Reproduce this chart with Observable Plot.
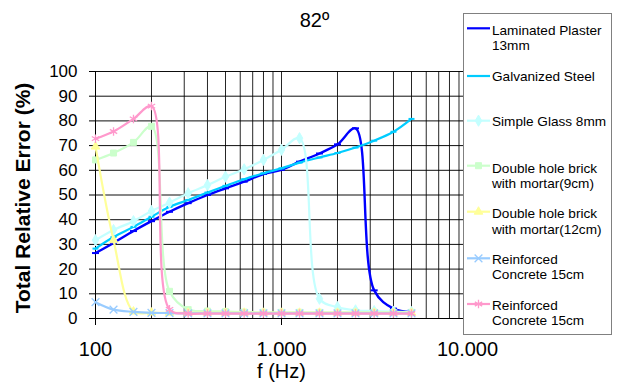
<!DOCTYPE html>
<html><head><meta charset="utf-8">
<script src="https://cdn.jsdelivr.net/npm/d3@7"></script>
<script src="https://cdn.jsdelivr.net/npm/@observablehq/plot@0.6"></script>
<style>
body{margin:0;background:#fff;font-family:Arial,"Liberation Sans",sans-serif}
#wrap{position:relative;width:617px;height:383px;overflow:hidden}
#legend{position:absolute;left:463px;top:13px}
</style>
</head><body><div id="wrap"></div>
<script>
const title = "82º";
const xTitle = "f (Hz)";
const yTitle = "Total Relative Error (%)";
const freqs = [100,125,160,200,250,315,400,500,630,800,1000,1250,1600,2000,2500,3150,4000,5000];
const xTicks = [100,1000,10000];
const xTickLabels = ["100","1.000","10.000"];
const xGrid = [100,200,300,400,500,600,700,800,900,1000,2000,3000,4000,5000,6000,7000,8000,9000];
const yTicks = [0,10,20,30,40,50,60,70,80,90,100];
const seriesNames = ["Laminated Plaster 13mm","Galvanized Steel","Simple Glass 8mm","Double hole brick with mortar(9cm)","Double hole brick with mortar(12cm)","Reinforced Concrete 15cm","Reinforced Concrete 15cm"];
const legendLines = [["Laminated Plaster","13mm"],["Galvanized Steel"],["Simple Glass 8mm"],["Double hole brick","with mortar(9cm)"],["Double hole brick","with mortar(12cm)"],["Reinforced","Concrete 15cm"],["Reinforced","Concrete 15cm"]];
const laminated = [26.5,30.6,35.4,39.4,43.2,46.7,50.0,52.7,55.4,58.5,60.2,63.5,66.8,70.5,77.0,11.4,4.0,2.6];
const galvanized = [28.3,33.0,37.1,41.2,45.2,48.0,51.0,53.7,56.4,58.8,60.8,63.1,65.2,67.0,69.2,72.0,75.6,80.8];
const glass = [31.7,35.8,39.4,43.5,46.9,50.7,54.0,57.4,60.4,64.2,68.3,73.0,8.0,4.6,3.3,3.0,2.8,2.6];
const brick9 = [64.2,67.0,71.3,77.8,11.0,3.6,3.0,2.8,2.6,2.5,2.5,2.5,2.5,2.5,2.5,2.5,2.5,2.5];
const brick12 = [69.6,31.7,2.8,2.4,2.3,2.3,2.3,2.3,2.3,2.3,2.3,2.3,2.3,2.3,2.3,2.3,2.3,2.3];
const concreteA = [6.6,3.6,2.7,2.3,2.2,2.1,2.1,2.1,2.1,2.1,2.1,2.1,2.1,2.1,2.1,2.1,2.1,2.1];
const concreteB = [72.8,75.7,80.8,86.0,3.7,2.0,2.0,2.0,2.0,2.0,2.0,2.0,2.0,2.0,2.0,2.0,2.0,2.0];
const seriesValues = [laminated,galvanized,glass,brick9,brick12,concreteA,concreteB];
const colors = ["#0000FF","#00CCFF","#C4FFFF","#CCFFCC","#FFFF99","#99CCFF","#FF99CC"];

const dash = {draw(ctx, size){const r = Math.sqrt(size/Math.PI); ctx.moveTo(-r,0); ctx.lineTo(r,0);}};
const markerStyles = [
  {symbol: dash, r: 3.5, fill: "none", stroke: colors[0], strokeWidth: 2},
  {symbol: dash, r: 3, fill: "none", stroke: colors[1], strokeWidth: 2},
  {symbol: "diamond", r: 3.4, fill: colors[2], stroke: colors[2], strokeWidth: 1},
  {symbol: "square", r: 3.4, fill: colors[3], stroke: colors[3], strokeWidth: 1},
  {symbol: "triangle", r: 3.2, fill: colors[4], stroke: colors[4], strokeWidth: 1},
  {symbol: "times", r: 3.6, fill: "none", stroke: colors[5], strokeWidth: 1.3},
  {symbol: "asterisk", r: 4, fill: "none", stroke: colors[6], strokeWidth: 1.3}
];

const seriesMarks = [];
seriesValues.forEach((vals, i) => {
  const rows = freqs.map((f, j) => ({f, v: vals[j], s: seriesNames[i]}));
  seriesMarks.push(Plot.line(rows, {x: "f", y: "v", stroke: colors[i], strokeWidth: i === 0 ? 2.4 : 2.2, curve: "catmull-rom"}));
  const m = markerStyles[i];
  seriesMarks.push(Plot.dot(rows, {x: "f", y: "v", symbol: m.symbol, r: m.r, fill: m.fill, stroke: m.stroke, strokeWidth: m.strokeWidth}));
});

const chart = Plot.plot({
  width: 617, height: 383,
  marginLeft: 95, marginRight: 150, marginTop: 71, marginBottom: 65,
  style: {fontFamily: "Arial, 'Liberation Sans', sans-serif", background: "#fff", color: "#000", overflow: "visible"},
  x: {type: "log", domain: [100, 10000]},
  y: {domain: [0, 100]},
  marks: [
    Plot.gridX(xGrid, {stroke: "#000", strokeOpacity: 0.85, strokeWidth: 1}),
    Plot.gridY(yTicks, {stroke: "#000", strokeOpacity: 0.95, strokeWidth: 1}),
    Plot.ruleY([0], {stroke: "#000", strokeWidth: 1}),
    Plot.ruleX([100], {stroke: "#000", strokeWidth: 1}),
    Plot.axisY({ticks: yTicks, tickSize: 6, tickPadding: 12, fontSize: 17, label: null}),
    Plot.axisX({ticks: xTicks, tickFormat: d => xTickLabels[xTicks.indexOf(d)], tickSize: 7, tickPadding: 16, fontSize: 20, label: null}),
    ...seriesMarks,
    Plot.text([title], {frameAnchor: "top", lineAnchor: "middle", dx: 33, dy: -51, fontSize: 20, fill: "#000"}),
    Plot.text([xTitle], {frameAnchor: "bottom", lineAnchor: "middle", dy: 53, fontSize: 20, fill: "#000"}),
    Plot.text([yTitle], {frameAnchor: "left", textAnchor: "middle", lineAnchor: "middle", rotate: -90, dx: -72, dy: 3, fontSize: 21, fontWeight: "bold", fill: "#000"})
  ]
});
const wrap = document.getElementById("wrap");
wrap.appendChild(chart);

// legend
const lw = 149, lh = 322;
const swatchY = [15.3, 63, 107.7, 152.7, 198.7, 245.3, 291];
const textY = [[17.7, 32.3], [63.5], [108], [155.3, 170.6], [200.3, 216.3], [246.3, 261.6], [292, 307.7]];
const svg = d3.create("svg").attr("id", "legend").attr("width", lw).attr("height", lh)
  .style("font-family", "Arial, 'Liberation Sans', sans-serif");
svg.append("rect").attr("x", 0.5).attr("y", 0.5).attr("width", lw - 1).attr("height", lh - 1)
  .attr("fill", "#fff").attr("stroke", "#808080");
seriesNames.forEach((name, i) => {
  const g = svg.append("g");
  g.append("line").attr("x1", 4).attr("x2", 27).attr("y1", swatchY[i]).attr("y2", swatchY[i])
    .attr("stroke", colors[i]).attr("stroke-width", 2.2);
  const m = markerStyles[i];
  if (typeof m.symbol === "string") {
    const map = {diamond: d3.symbolDiamond, square: d3.symbolSquare, triangle: d3.symbolTriangle, times: d3.symbolTimes, asterisk: d3.symbolAsterisk};
    g.append("path").attr("d", d3.symbol(map[m.symbol], Math.PI * m.r * m.r)())
      .attr("transform", `translate(15.5,${swatchY[i]})`)
      .attr("fill", m.fill).attr("stroke", m.stroke).attr("stroke-width", m.strokeWidth);
  }
  legendLines[i].forEach((t, k) => {
    g.append("text").attr("x", 29).attr("y", textY[i][k]).attr("dominant-baseline", "central")
      .attr("font-size", 13.6).attr("fill", "#000").text(t);
  });
});
wrap.appendChild(svg.node());
</script>
</body></html>
